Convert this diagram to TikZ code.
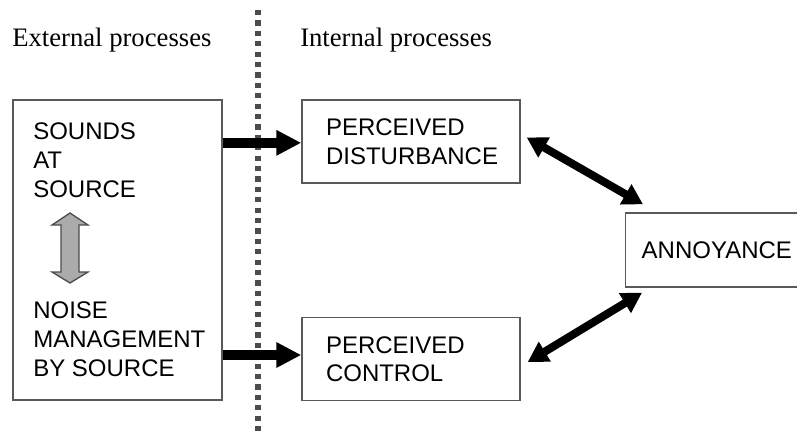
\documentclass[tikz,border=0pt]{standalone}
\usepackage{fontspec}
\setmainfont{Liberation Serif}
\setsansfont{Liberation Sans}
\usetikzlibrary{arrows.meta}

\begin{document}
\begin{tikzpicture}[x=0.75pt,y=-0.75pt]
	\tikzstyle{every node}=[inner sep=0pt]
	\tikzstyle{box}=[draw=black!65, line width=1.1pt]
	\tikzstyle{caps}=[font=\sffamily\fontsize{18}{21.4}\selectfont, align=left]
	\tikzstyle{head}=[font=\rmfamily\fontsize{20}{24}\selectfont, anchor=base west]
	\tikzstyle{push}=[line width=7.5pt, -{Triangle[length=18.75pt,width=18pt]}]
	\tikzstyle{link}=[line width=6pt, {Triangle[length=15pt,width=16.5pt]}-{Triangle[length=15pt,width=16.5pt]}]
	\useasboundingbox (0,0) rectangle (797,430);
	% headings and divider
	\node[head] (ext) at (12,46) {External processes};
	\node[head] (int) at (300,46) {Internal processes};
	\coordinate (top) at (258,10);
	\coordinate (bot) at (258,432);
	\draw[black!70, line width=4.5pt, dash pattern=on 3.9pt off 3.9pt] (top) -- (bot);
	% source side
	\node[box, minimum width=156.75pt, minimum height=225pt] (src) at (117.5,250) {};
	\node[caps, anchor=base west] (snd) at (33,197) {SOUNDS\\AT\\SOURCE};
	\node[caps, anchor=base west] (mgmt) at (33,376) {NOISE\\MANAGEMENT\\BY SOURCE};
	\draw[black!70, fill=black!33, line width=1pt] (70,213) -- (88,225) -- (79,225) -- (79,272)
		-- (88,272) -- (70,283) -- (52,272) -- (61,272) -- (61,225) -- (52,225) -- cycle;
	% internal side
	\node[box, caps, text width=127.5pt, inner xsep=18pt, minimum height=62.25pt] (dist) at (411,141.5) {PERCEIVED\\DISTURBANCE};
	\node[box, caps, text width=127.5pt, inner xsep=18pt, minimum height=62.25pt] (ctrl) at (411,359) {PERCEIVED\\CONTROL};
	\node[box, caps, anchor=west, inner xsep=12pt, minimum height=55.5pt] (ann) at (625,250) {ANNOYANCE};
	% arrows
	\draw[push] ([yshift=-1pt]src.east |- dist.west) -- ([yshift=-1pt]dist.west);
	\draw[push] ([yshift=3pt]src.east |- ctrl.west) -- ([yshift=3pt]ctrl.west);
	\draw[link] ([shift={(6,-4)}]dist.east) -- ([shift={(18,-8)}]ann.north west);
	\draw[link] ([shift={(7,3)}]ctrl.east) -- ([shift={(17,5)}]ann.south west);
\end{tikzpicture}
\end{document}
